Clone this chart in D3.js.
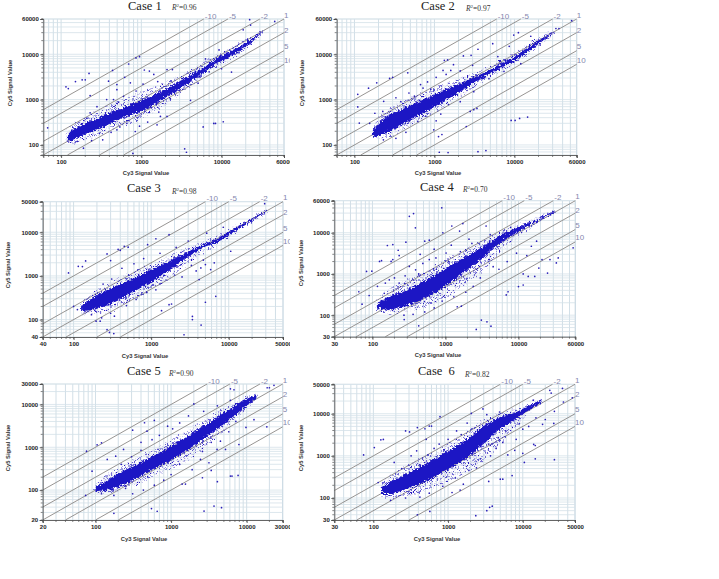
<!DOCTYPE html>
<html>
<head>
<meta charset="utf-8">
<script src="https://cdn.jsdelivr.net/npm/d3@7/dist/d3.min.js"></script>
<style>
html,body{margin:0;padding:0;background:#fff;}
svg{display:block;}
.tick-label{font-family:"Liberation Sans",Arial,sans-serif;font-weight:bold;font-size:6px;fill:#222;}
.axis-title{font-family:"Liberation Sans",Arial,sans-serif;font-weight:bold;font-size:5.8px;fill:#333;}
.case-title{font-family:"Liberation Serif","Times New Roman",serif;font-size:12.5px;fill:#222;}
.r2{font-family:"Liberation Serif","Times New Roman",serif;font-size:7.5px;fill:#333;}
.fold{font-family:"Liberation Sans",Arial,sans-serif;font-size:8px;fill:#8587ae;}
</style>
</head>
<body>
<div id="chart"></div>
<script>
// Fold-change guide lines shared by every panel (Cy5 = ratio x Cy3).
const foldLabels = ["-10", "-5", "-2", "1", "2", "5", "10"];
const foldRatios = [10, 5, 2, 1, 0.5, 0.2, 0.1];

const caseNames = ["Case 1", "Case 2", "Case 3", "Case 4", "Case 5", "Case 6"];
const caseR2 = ["0.96", "0.97", "0.98", "0.70", "0.90", "0.82"];

// Axis ranges and labelled ticks per case.
const xDomains = [[60, 60000], [60, 60000], [40, 50000], [30, 60000], [20, 30000], [30, 50000]];
const yDomains = [[60, 60000], [60, 60000], [40, 50000], [30, 60000], [20, 30000], [30, 50000]];
const xTickValues = [
  [100, 1000, 10000, 60000], [100, 1000, 10000, 60000], [40, 100, 1000, 10000, 50000],
  [30, 100, 1000, 10000, 60000], [20, 100, 1000, 10000, 30000], [30, 100, 1000, 10000, 50000]
];
const yTickValues = [
  [100, 1000, 10000, 60000], [100, 1000, 10000, 60000], [40, 100, 1000, 10000, 50000],
  [30, 100, 1000, 10000, 60000], [20, 100, 1000, 10000, 30000], [30, 100, 1000, 10000, 50000]
];

// Dense spot cloud: Cy3 position with the Cy5 envelope of the solid core and of its sparser fringe.
const case1Cy3 =       [118, 135, 190, 307, 496, 1000, 2090, 3340, 5466, 8300, 14260, 23500, 33000];
const case1CoreLo =    [125, 128, 165, 230, 350, 560, 1150, 1950, 3500, 5900, 9900, 18500, 33000];
const case1CoreHi =    [150, 210, 290, 410, 580, 950, 1750, 2850, 4700, 7800, 12800, 21500, 34000];
const case1FringeLo =  [110, 105, 125, 165, 240, 380, 800, 1500, 2900, 5000, 8400, 16500, 32000];
const case1FringeHi =  [175, 270, 400, 600, 900, 1450, 2500, 3600, 5800, 9500, 15500, 25000, 35500];

const case2Cy3 =       [170, 200, 287, 464, 1000, 1950, 3480, 6190, 11000, 19600, 31000];
const case2CoreLo =    [150, 160, 205, 330, 700, 1380, 2600, 4600, 7900, 16500, 29000];
const case2CoreHi =    [215, 295, 480, 700, 1280, 2150, 3350, 5600, 9900, 19800, 31000];
const case2FringeLo =  [135, 135, 160, 250, 520, 1080, 2100, 3900, 6700, 14500, 27000];
const case2FringeHi =  [245, 380, 660, 1000, 1800, 2800, 4200, 6800, 12000, 23000, 33500];

const case3Cy3 =       [125, 184, 369, 604, 1000, 1620, 2660, 4370, 7200, 11800, 19500, 31000];
const case3CoreLo =    [155, 170, 270, 440, 730, 1250, 2350, 4150, 6000, 10400, 17500, 30500];
const case3CoreHi =    [205, 330, 620, 900, 1400, 2050, 3200, 5000, 7200, 12200, 19200, 32500];
const case3FringeLo =  [135, 135, 180, 290, 480, 800, 1600, 3200, 5200, 9400, 16500, 29000];
const case3FringeHi =  [240, 430, 860, 1280, 1900, 2700, 4000, 5900, 8300, 13500, 21000, 34000];

const case4Cy3 =       [115, 170, 287, 487, 1000, 1730, 3240, 6100, 11600, 19700, 32000];
const case4CoreLo =    [150, 135, 170, 240, 500, 1050, 2500, 6400, 12400, 20800, 31500];
const case4CoreHi =    [185, 280, 400, 640, 1350, 2400, 4600, 9300, 15000, 22500, 34000];
const case4FringeLo =  [135, 110, 125, 150, 260, 520, 1150, 3800, 9500, 18500, 30500];
const case4FringeHi =  [215, 420, 680, 1100, 2200, 3700, 6500, 11500, 17000, 25000, 36000];

const case5Cy3 =       [100, 143, 263, 535, 1000, 1800, 3000, 5550, 9200, 13500];
const case5CoreLo =    [95, 100, 145, 290, 500, 950, 1800, 4000, 8300, 14300];
const case5CoreHi =    [120, 170, 310, 580, 1050, 2000, 3500, 7200, 12500, 16500];
const case5FringeLo =  [85, 85, 110, 185, 320, 560, 1100, 2800, 7000, 13300];
const case5FringeHi =  [135, 230, 430, 820, 1500, 2800, 4800, 9000, 14500, 18500];

const case6Cy3 =       [130, 171, 285, 578, 1000, 1770, 2930, 4890, 8160, 12250, 18000];
const case6CoreLo =    [125, 125, 165, 280, 480, 900, 1850, 4300, 7500, 12400, 19000];
const case6CoreHi =    [185, 240, 380, 740, 1300, 2400, 5000, 8200, 10800, 15800, 21000];
const case6FringeLo =  [110, 100, 110, 160, 250, 400, 750, 1900, 5000, 10800, 18000];
const case6FringeHi =  [220, 350, 600, 1150, 2100, 3800, 7000, 10300, 13200, 18000, 23000];

// Individually readable spots outside the dense cloud: [Cy3, Cy5].
const case1Spots = [
  [68,239],[115,1910],[123,1750],[151,2500],[183,2735],[200,2735],[223,3790],[230,1230],[390,2550],[438,4400],
  [695,6100],[858,8300],[950,8850],[496,1660],[496,2150],[1090,4500],[1260,4250],[1430,3600],[2090,4600],[2440,4600],
  [4100,965],[5900,250],[8000,298],[8400,298],[10500,325],[3470,82],[3650,69],[785,65],[10000,4800],[13300,4050],
  [22400,58000],[23000,44000],[18600,34700],[46000,53000],[1570,278],[2090,425],[1730,425],[840,198],[660,300],[496,215],
  [370,1000],[450,1000],[600,1180],[730,2350],[230,510],[210,390],[1200,320],[1650,530],[950,260],[720,480],
  [300,180],[420,190],[540,250],[280,700],[520,880],[860,1550],[1050,2200],[1600,2500],[2300,1050],[3000,1600],
  [3900,2400],[5100,2300],[7000,4100],[6300,7900],[9300,12500],[160,120],[240,125],[330,130],[190,85],[620,3100]
];
const case2Spots = [
  [110,1310],[150,1790],[110,688],[115,303],[190,2350],[275,2950],[300,3100],[464,3900],[1330,7370],[1460,7500],
  [1730,5900],[1600,4400],[1280,4400],[1400,3600],[2870,9500],[2300,9200],[3500,12900],[5350,17100],[11200,30000],[9800,26500],
  [52000,55000],[33000,37000],[36000,37000],[9100,348],[10200,348],[11600,385],[14600,412],[3100,600],[3400,640],[2800,550],
  [2500,255],[1125,153],[1240,170],[1150,69],[1480,68],[3500,71],[4400,75],[980,215],[562,1190],[232,918],
  [226,550],[180,500],[670,2150],[820,2450],[900,1700],[1050,3100],[720,1800],[380,900],[480,1400],[330,1100],
  [620,330],[780,430],[1200,480],[1050,340],[1500,780],[2100,900],[3100,1500],[4800,2900],[7400,4200],[12000,6200],
  [230,130],[330,140],[440,190],[155,300],[2100,4300],[3000,5700],[6200,8900],[8600,15000],[16000,25000],[21000,16000]
];
const case3Spots = [
  [86,1170],[115,1660],[143,2200],[130,1640],[270,3190],[300,2250],[375,4070],[400,3860],[450,4770],[505,4540],
  [900,5200],[1150,7100],[1700,8800],[29000,45000],[3400,118],[3400,100],[4400,75],[2650,45],[5000,250],[6800,342],
  [1360,160],[1700,220],[1830,228],[270,59],[290,51],[330,48],[195,92],[220,92],[336,120],[5840,1400],
  [6500,1990],[5000,1820],[4370,1525],[4150,824],[10600,3670],[1300,660],[2000,1050],[2500,950],[3300,1750],[3800,1300],
  [4700,2300],[240,650],[310,850],[420,1500],[600,1900],[800,2500],[1300,3300],[2100,4500],[3000,6300],[5200,9500],
  [8500,13000],[480,210],[640,290],[880,420],[1150,480],[170,130],[230,110],[300,140],[100,200],[112,170]
];
const case4Spots = [
  [320,25100],[365,29200],[387,13200],[890,40200],[160,4900],[190,5170],[225,3760],[232,2800],[83,1150],[98,1170],
  [125,2020],[133,2100],[180,2020],[190,2230],[287,5900],[520,6250],[600,6600],[920,10000],[1220,14600],[1730,16700],
  [1560,11000],[2100,7000],[3600,14600],[65,370],[90,300],[72,185],[117,500],[145,340],[170,720],[232,600],
  [320,1520],[390,1260],[600,2230],[740,2450],[490,1800],[1020,3230],[56000,4300],[35000,2450],[27000,2230],[21000,2230],
  [33000,1850],[25000,1050],[19000,1390],[16700,870],[13600,870],[11600,1000],[10000,495],[11600,540],[6800,310],[7200,370],
  [3100,76],[3700,69],[4200,54],[2640,45],[1450,160],[1650,165],[272,78],[430,55],[17700,6250],[15000,4700],
  [9400,3200],[4000,2230],[4500,1500],[2400,500],[3000,800],[5400,1300],[7000,2000],[1300,280],[1900,360],[900,220],
  [700,150],[520,120],[360,105],[270,100],[1600,3500],[2300,5500],[4100,9000],[7800,13500],[750,1300],[1100,2000],
  [430,1000],[280,900],[200,800],[150,600],[1200,5000],[700,4000],[450,3000],[30000,32000],[28000,30000],[13000,2800]
];
const case5Spots = [
  [76,810],[105,1140],[120,1270],[90,276],[74,75],[175,28.6],[143,520],[185,620],[235,890],[310,2510],
  [445,3730],[600,4220],[480,2370],[400,1300],[560,1500],[2000,10300],[6100,23200],[6800,22000],[23000,28000],[18700,24500],
  [20000,24500],[6100,212],[6400,212],[7700,220],[1550,138],[1400,138],[2600,194],[3400,287],[4100,157],[3700,42.3],
  [4650,38.7],[2730,32.4],[550,37],[655,32],[175,75],[310,82],[430,100],[18500,3000],[12500,4400],[9800,2900],
  [2450,520],[3170,435],[4060,890],[5250,890],[4500,1390],[7900,1160],[1300,400],[1000,230],[800,170],[600,130],
  [1900,300],[2600,800],[3400,1300],[5800,2300],[7200,4000],[900,3100],[1300,3700],[1700,5400],[2700,6900],[4100,9300],
  [6100,12500],[220,400],[300,600],[400,850],[700,1900],[250,110],[170,95],[120,82],[1050,2700],[8200,9100]
];
const case6Spots = [
  [74,1050],[103,1570],[126,2400],[136,2450],[116,233],[270,3900],[305,3700],[388,4700],[490,4400],[560,5100],
  [600,5100],[780,8500],[2050,10200],[2930,13000],[4890,11000],[23000,36000],[24000,31000],[34000,40000],[13800,21000],[35000,19000],
  [46000,24000],[26500,11400],[20000,7300],[26000,5900],[18400,5600],[14000,1870],[14700,1760],[14700,850],[26500,810],[10000,1150],
  [10500,700],[7200,340],[5400,280],[5000,280],[3500,247],[3900,64],[3300,50],[3600,60],[2350,38],[1130,135],
  [1450,154],[1600,213],[388,40],[570,48],[8160,2470],[5400,2080],[4400,1500],[3700,1000],[320,1000],[380,1320],
  [510,2470],[1000,2470],[760,1900],[1300,3900],[1800,6000],[3300,9500],[190,700],[240,500],[420,620],[2700,850],
  [1900,450],[2400,520],[1250,300],[850,190],[560,130],[420,105],[270,100],[170,88],[7800,1350],[6300,1050],
  [10000,4300],[12000,5000],[15000,8000],[9000,5800],[5900,3900],[4700,2700],[3500,1900],[2200,1250],[650,1500],[1500,3200]
];

const caseCy3 = [case1Cy3, case2Cy3, case3Cy3, case4Cy3, case5Cy3, case6Cy3];
const caseCoreLo = [case1CoreLo, case2CoreLo, case3CoreLo, case4CoreLo, case5CoreLo, case6CoreLo];
const caseCoreHi = [case1CoreHi, case2CoreHi, case3CoreHi, case4CoreHi, case5CoreHi, case6CoreHi];
const caseFringeLo = [case1FringeLo, case2FringeLo, case3FringeLo, case4FringeLo, case5FringeLo, case6FringeLo];
const caseFringeHi = [case1FringeHi, case2FringeHi, case3FringeHi, case4FringeHi, case5FringeHi, case6FringeHi];
const caseSpots = [case1Spots, case2Spots, case3Spots, case4Spots, case5Spots, case6Spots];

// Page layout: plot rectangle and the free-standing text anchors of each panel.
const frames = [
  {l:43.3, r:284, t:19,  b:155, clip:290, title:[128,10],  r2:[172,9.5],  xt:[146,175], yt:[12,83]},
  {l:336.7,r:576.7,t:19, b:155, clip:719, title:[421,10],  r2:[466,10.5], xt:[438,175], yt:[304,83]},
  {l:42.7, r:283, t:201.7,b:337,clip:290, title:[127,192], r2:[172,193.5],xt:[145,358], yt:[10,265]},
  {l:334.3,r:575.3,t:200.7,b:336.7,clip:719,title:[420,191],r2:[463,191.5],xt:[438,357],yt:[303,263]},
  {l:42.7, r:282.7,t:384,b:520, clip:290, title:[127,375], r2:[169,375.5],xt:[144,541], yt:[9.5,448]},
  {l:334.3,r:575,t:384.3,b:520, clip:719, title:[418,375], r2:[465,376.5],xt:[437,541], yt:[303,448]}
];

const svg = d3.select("#chart").append("svg").attr("width", 719).attr("height", 579);

// Speckle used for the thin outer part of each cloud.
const defs = svg.append("defs");
const speckle = defs.append("pattern").attr("id", "speckle")
  .attr("patternUnits", "userSpaceOnUse").attr("width", 11).attr("height", 9);
[[1,1],[5,0.5],[8.5,2],[3,3.5],[6.5,4.5],[10,5.5],[1.5,6],[4.5,7.5],[8,8]].forEach(([cx, cy]) => {
  speckle.append("circle").attr("cx", cx).attr("cy", cy).attr("r", 0.8).attr("fill", "#2a1fc0");
});

// Roughens the cloud outline so that it reads as a mass of overlapping spots.
const rough = defs.append("filter").attr("id", "rough")
  .attr("filterUnits", "userSpaceOnUse").attr("x", 0).attr("y", 0).attr("width", 719).attr("height", 579);
rough.append("feTurbulence").attr("type", "fractalNoise").attr("baseFrequency", 0.55)
  .attr("numOctaves", 2).attr("seed", 4).attr("result", "noise");
rough.append("feDisplacementMap").attr("in", "SourceGraphic").attr("in2", "noise")
  .attr("scale", 6).attr("xChannelSelector", "R").attr("yChannelSelector", "G");

const decades = d3.range(0, 6).map(e => Math.pow(10, e));
const gridSteps = [1, 2, 3, 4, 5, 6, 7, 8, 9];

caseNames.forEach((name, i) => {
  const f = frames[i];
  const x = d3.scaleLog().domain(xDomains[i]).range([f.l, f.r]);
  const y = d3.scaleLog().domain(yDomains[i]).range([f.b, f.t]);

  // Left-column panels are cut at the column edge, which trims their last x label.
  const panel = svg.append("svg").attr("x", 0).attr("y", 0)
    .attr("width", f.clip).attr("height", 579).style("overflow", "hidden");

  const inRange = (s, v) => v >= s.domain()[0] && v <= s.domain()[1];
  const xGrid = decades.flatMap(d => gridSteps.map(g => g * d)).filter(v => inRange(x, v));
  const yGrid = decades.flatMap(d => gridSteps.map(g => g * d)).filter(v => inRange(y, v));
  xGrid.push(xDomains[i][1]);
  yGrid.push(yDomains[i][1]);

  panel.append("g").selectAll("line").data(xGrid).join("line")
    .attr("x1", d => x(d)).attr("x2", d => x(d)).attr("y1", f.t).attr("y2", f.b)
    .attr("stroke", "#c6d7e1").attr("stroke-width", 0.8);
  panel.append("g").selectAll("line").data(yGrid).join("line")
    .attr("x1", f.l).attr("x2", f.r).attr("y1", d => y(d)).attr("y2", d => y(d))
    .attr("stroke", "#d4e1e8").attr("stroke-width", 0.8);

  // Fold guide lines, clipped to the plot rectangle through the data domain.
  const foldLine = d3.line().x(d => x(d[0])).y(d => y(d[1]));
  foldRatios.forEach((ratio, k) => {
    const x0 = Math.max(xDomains[i][0], yDomains[i][0] / ratio);
    const x1 = Math.min(xDomains[i][1], yDomains[i][1] / ratio);
    const ends = [[x0, x0 * ratio], [x1, x1 * ratio]];
    panel.append("path").attr("d", foldLine(ends)).attr("fill", "none")
      .attr("stroke", "#858280").attr("stroke-width", 0.85);
    const topEnd = ratio > 1;
    panel.append("text").attr("class", "fold")
      .attr("x", x(x1) + (topEnd ? 1 : 0))
      .attr("y", y(x1 * ratio) - (ratio === 1 ? 1.5 : ratio > 1 ? 0.5 : ratio === 0.5 ? 0 : 1.5))
      .text(foldLabels[k]);
  });

  // Dense cloud: speckled fringe, then the solid core, both roughened together.
  const cy3 = caseCy3[i];
  const band = (lo, hi) => d3.area()
    .x(d => x(d))
    .y0((d, j) => y(lo[j]))
    .y1((d, j) => y(hi[j]))
    .curve(d3.curveCatmullRom.alpha(0.5))(cy3);
  const cloud = panel.append("g").attr("filter", "url(#rough)");
  cloud.append("path").attr("d", band(caseFringeLo[i], caseFringeHi[i])).attr("fill", "url(#speckle)");
  cloud.append("path").attr("d", band(caseCoreLo[i], caseCoreHi[i])).attr("fill", "#1f14c4");

  panel.append("g").selectAll("circle").data(caseSpots[i]).join("circle")
    .attr("cx", d => x(d[0])).attr("cy", d => y(d[1])).attr("r", 0.85)
    .attr("fill", "#2a1fb8");

  // Axes: d3 ticks for the labelled values, tick-only marks for the in-between steps.
  const xAxis = panel.append("g").attr("transform", `translate(0,${f.b})`)
    .call(d3.axisBottom(x).tickValues(xTickValues[i]).tickFormat(d3.format("d")).tickSize(3).tickPadding(2));
  const yAxis = panel.append("g").attr("transform", `translate(${f.l},0)`)
    .call(d3.axisLeft(y).tickValues(yTickValues[i]).tickFormat(d3.format("d")).tickSize(3).tickPadding(1.5));
  [xAxis, yAxis].forEach(a => {
    a.attr("font-family", null).attr("font-size", null);
    a.select(".domain").attr("stroke", "#555").attr("stroke-width", 0.9);
    a.selectAll(".tick line").attr("stroke", "#444").attr("stroke-width", 0.8);
    a.selectAll(".tick text").attr("class", "tick-label").attr("fill", null);
  });
  xAxis.append("g").selectAll("line").data(xGrid).join("line")
    .attr("x1", d => x(d)).attr("x2", d => x(d)).attr("y1", 0).attr("y2", 2).attr("stroke", "#555").attr("stroke-width", 0.7);
  yAxis.append("g").selectAll("line").data(yGrid).join("line")
    .attr("y1", d => y(d)).attr("y2", d => y(d)).attr("x1", 0).attr("x2", -2).attr("stroke", "#555").attr("stroke-width", 0.7);

  panel.append("text").attr("class", "axis-title").attr("text-anchor", "middle")
    .attr("x", f.xt[0]).attr("y", f.xt[1]).text("Cy3 Signal Value");
  panel.append("text").attr("class", "axis-title").attr("text-anchor", "middle")
    .attr("transform", `translate(${f.yt[0]},${f.yt[1]}) rotate(-90)`).text("Cy5 Signal Value");

  panel.append("text").attr("class", "case-title").attr("x", f.title[0]).attr("y", f.title[1])
    .style("white-space", "pre").text(i === 5 ? "Case  6" : name);

  const r2 = panel.append("text").attr("class", "r2").attr("x", f.r2[0]).attr("y", f.r2[1]);
  r2.append("tspan").attr("font-style", "italic").text("R");
  r2.append("tspan").attr("font-size", "5px").attr("dy", "-2.5").text("2");
  r2.append("tspan").attr("dy", "2.5").text("=" + caseR2[i]);
});
</script>
</body>
</html>
